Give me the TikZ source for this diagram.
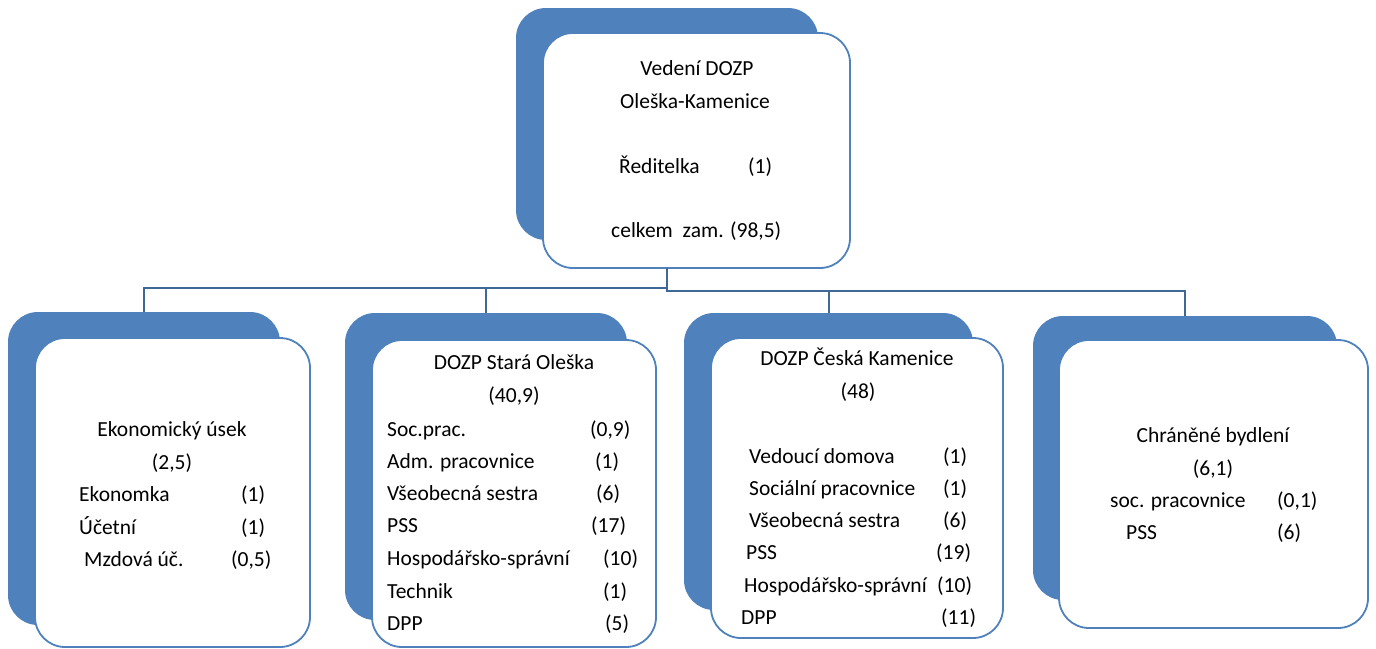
\documentclass[tikz,border=0pt]{standalone}
\usepackage{fontspec}
\setmainfont{Carlito}
\definecolor{shblue}{HTML}{4F81BD}
\definecolor{lnblue}{HTML}{3F6897}
\begin{document}
\begin{tikzpicture}[x=1pt,y=-1pt,
  shadowbox/.style={draw=none,fill=shblue,rounded corners=30pt,inner sep=0pt},
  frontbox/.style={draw=shblue,line width=1.8pt,fill=white,rounded corners=30pt,inner sep=0pt},
  lbl/.style={anchor=base west,inner sep=0pt,font=\fontsize{21.5}{25}\selectfont},
  ttl/.style={anchor=base,inner sep=0pt,font=\fontsize{21.5}{25}\selectfont},
  conn/.style={draw=lnblue,line width=2pt}]
\useasboundingbox (0,0) rectangle (1376,648);
% top box
\node[shadowbox,minimum width=302pt,minimum height=232pt] (s0) at (667,124) {};
\node[frontbox,minimum width=307pt,minimum height=235pt] (f0) at (696.5,150.5) {};
% children
\node[shadowbox,minimum width=272pt,minimum height=313pt] (s1) at (144,468.5) {};
\node[frontbox,minimum width=275pt,minimum height=309pt] (f1) at (172.5,492.5) {};
\node[shadowbox,minimum width=282pt,minimum height=307pt] (s2) at (486,466.5) {};
\node[frontbox,minimum width=284pt,minimum height=307pt] (f2) at (514,493.5) {};
\node[shadowbox,minimum width=289pt,minimum height=297pt] (s3) at (828.5,461.5) {};
\node[frontbox,minimum width=292pt,minimum height=300pt] (f3) at (857,488) {};
\node[shadowbox,minimum width=304pt,minimum height=284pt] (s4) at (1185,458) {};
\node[frontbox,minimum width=309pt,minimum height=288pt] (f4) at (1213.5,484) {};
% connectors
\coordinate (j0) at (667,268);
\draw[conn] (j0) -- (667,288) -| (s1.north);
\draw[conn] (j0) -- (667,288) -| (s2.north);
\draw[conn] (j0) -- (667,291) -| (s3.north);
\draw[conn] (j0) -- (667,291) -| (s4.north);
% top text
\node[ttl] (t0a) at (697,75) {Vedení DOZP};
\node[ttl] (t0b) at (695,108) {Oleška-Kamenice};
\node[lbl] (t0c) at (619,173) {Ředitelka};
\node[lbl] (t0d) at (748,173) {(1)};
\node[lbl] (t0e) at (611,237) {celkem\ \ zam. (98,5)};
% box 1
\node[ttl] (t1a) at (172,436) {Ekonomický úsek};
\node[ttl] (t1b) at (172,469) {(2,5)};
\node[lbl] (t1c) at (79,501) {Ekonomka};
\node[lbl] (t1d) at (241,501) {(1)};
\node[lbl] (t1e) at (79,534) {Účetní};
\node[lbl] (t1f) at (241,534) {(1)};
\node[lbl] (t1g) at (84,566) {Mzdová úč.};
\node[lbl] (t1h) at (231,566) {(0,5)};
% box 2
\node[ttl] (t2a) at (514,369) {DOZP Stará Oleška};
\node[ttl] (t2b) at (514,402) {(40,9)};
\node[lbl] (t2c) at (387,436) {Soc.prac.};
\node[lbl] (t2d) at (590,436) {(0,9)};
\node[lbl] (t2e) at (387,468) {Adm. pracovnice};
\node[lbl] (t2f) at (595,468) {(1)};
\node[lbl] (t2g) at (387,500) {Všeobecná sestra};
\node[lbl] (t2h) at (596,500) {(6)};
\node[lbl] (t2i) at (387,532) {PSS};
\node[lbl] (t2j) at (591,532) {(17)};
\node[lbl] (t2k) at (387,565) {Hospodářsko-správní};
\node[lbl] (t2l) at (603,565) {(10)};
\node[lbl] (t2m) at (387,598) {Technik};
\node[lbl] (t2n) at (603,598) {(1)};
\node[lbl] (t2o) at (387,630) {DPP};
\node[lbl] (t2p) at (605,630) {(5)};
% box 3
\node[ttl] (t3a) at (857,365) {DOZP Česká Kamenice};
\node[ttl] (t3b) at (858,398) {(48)};
\node[lbl] (t3c) at (749,463) {Vedoucí domova};
\node[lbl] (t3d) at (943,463) {(1)};
\node[lbl] (t3e) at (749,495) {Sociální pracovnice};
\node[lbl] (t3f) at (943,495) {(1)};
\node[lbl] (t3g) at (749,527) {Všeobecná sestra};
\node[lbl] (t3h) at (943,527) {(6)};
\node[lbl] (t3i) at (746,559) {PSS};
\node[lbl] (t3j) at (936,559) {(19)};
\node[lbl] (t3k) at (744,592) {Hospodářsko-správní};
\node[lbl] (t3l) at (937,592) {(10)};
\node[lbl] (t3m) at (741,624) {DPP};
\node[lbl] (t3n) at (941,624) {(11)};
% box 4
\node[ttl] (t4a) at (1213,442) {Chráněné bydlení};
\node[ttl] (t4b) at (1213,475) {(6,1)};
\node[lbl] (t4c) at (1110,507) {soc. pracovnice};
\node[lbl] (t4d) at (1277,507) {(0,1)};
\node[lbl] (t4e) at (1126,539) {PSS};
\node[lbl] (t4f) at (1277,539) {(6)};
\end{tikzpicture}
\end{document}
